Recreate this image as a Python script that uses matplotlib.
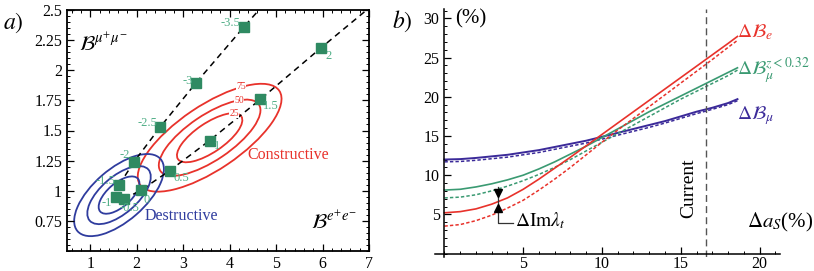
import matplotlib
matplotlib.use('Agg')
import numpy as np
from matplotlib import pyplot as plt
from matplotlib.patches import Ellipse
from matplotlib.transforms import Affine2D
from matplotlib.ticker import MultipleLocator, FormatStrFormatter

plt.rcParams['font.family'] = ['Liberation Serif', 'DejaVu Serif']
plt.rcParams['mathtext.fontset'] = 'stix'

# ---- panel a data ----
par_labels = ['-3.5', '-3', '-2.5', '-2', '-1.5', '-1', '-0.5', '0', '0.5', '1', '1.5', '2']
bee = [4.30, 3.28, 2.505, 1.946, 1.624, 1.55, 1.72, 2.10, 2.71, 3.57, 4.66, 5.97]
bmm = [2.356, 1.897, 1.528, 1.242, 1.05, 0.945, 0.93, 1.006, 1.167, 1.417, 1.758, 2.187]
lab_off = [(-2, 3), (-2, 1), (-2, 3), (-3, 5), (-3, 3), (-3, -4),
           (4, -6), (1.5, -7), (3, -5), (3, -4), (2, -5), (3, -6)]
lab_ha = ['right'] * 6 + ['center'] + ['left'] * 5

# dashed branches (indices into the points) plus where they leave the frame
branch1 = [4, 3, 2, 1, 0]
branch1_end = (4.63, 2.5)
branch2 = [6, 7, 8, 9, 10, 11]
branch2_end = (6.95, 2.5)

# probability contours: centre, semi axes (in reference pixels), angle
levels = ['25', '50', '75']
red_center = (3.57, 1.44)
red_axes = [(38.2, 14.6), (59.4, 22.6), (84, 32)]
red_angle = 34
blue_center = (1.62, 0.964)
blue_axes = [(25, 11.8), (38.9, 18.4), (55, 26)]
blue_angle = 41
level_pos = [(4.10, 1.645), (4.20, 1.753), (4.25, 1.863)]

# ---- panel b data ----
das = [0, 1, 2, 3, 4, 5, 6, 7, 8, 9, 10, 11, 12, 13, 14, 15, 16, 17, 18, 18.6]
be_solid = [5.2, 5.35, 5.7, 6.3, 7.1, 8.2, 9.5, 10.9, 12.3, 13.75, 15.2, 16.65,
            18.1, 19.55, 21.0, 22.45, 23.9, 25.35, 26.8, 27.7]
be_dash = [3.5, 3.7, 4.2, 4.9, 5.8, 6.8, 8.1, 9.5, 11.0, 12.6, 14.2, 15.75,
           17.25, 18.75, 20.25, 21.75, 23.25, 24.75, 26.3, 27.2]
bmz_solid = [8.1, 8.2, 8.5, 8.9, 9.4, 10.0, 10.8, 11.7, 12.7, 13.7, 14.8, 15.9,
             17.0, 18.1, 19.1, 20.1, 21.1, 22.1, 23.1, 23.7]
bmz_dash = [7.1, 7.2, 7.5, 8.0, 8.6, 9.3, 10.1, 11.0, 12.0, 13.1, 14.2, 15.3,
            16.4, 17.5, 18.6, 19.7, 20.7, 21.7, 22.7, 23.4]
bm_solid = [12.0, 12.05, 12.2, 12.4, 12.6, 12.9, 13.2, 13.6, 14.0, 14.4, 14.9, 15.4,
            15.9, 16.4, 16.9, 17.5, 18.1, 18.6, 19.2, 19.7]
bm_dash = [11.7, 11.75, 11.9, 12.1, 12.3, 12.6, 12.9, 13.3, 13.7, 14.1, 14.6, 15.1,
           15.6, 16.1, 16.65, 17.25, 17.85, 18.4, 19.0, 19.5]
current = 16.6

RED = '#e8322b'
GREEN = '#3a9a72'
GLAB = '#4fae86'
BLUE = '#2f3c9e'
VIOLET = '#3b2a99'

fig = plt.figure(figsize=(8.14, 2.71), dpi=100)

# ================= panel a =================
ax = fig.add_axes([67 / 814, 20 / 271, 302 / 814, 241 / 271])
ax.set_xlim(0.5, 7)
ax.set_ylim(0.5, 2.5)
ax.set_xticks([1, 2, 3, 4, 5, 6, 7])
ax.set_yticks([0.75, 1, 1.25, 1.5, 1.75, 2, 2.25, 2.5])
ax.yaxis.set_major_formatter(FormatStrFormatter('%g'))
ax.xaxis.set_minor_locator(MultipleLocator(0.2))
ax.yaxis.set_minor_locator(MultipleLocator(0.05))
ax.tick_params(which='both', direction='in', top=True, right=True, labelsize=11.5)
ax.tick_params(which='major', length=5, width=0.9)
ax.tick_params(which='minor', length=2.5, width=0.7)
for s in ax.spines.values():
    s.set_linewidth(1.3)

fig.canvas.draw()
bb = ax.get_window_extent()
ppx = bb.width / 6.5
ppy = bb.height / 2.0


def draw_ellipses(center, axes_list, angle, color):
    tr = Affine2D().scale(1 / ppx, 1 / ppy).translate(*center) + ax.transData
    for a, b in axes_list:
        ax.add_patch(Ellipse((0, 0), 2 * a, 2 * b, angle=angle, transform=tr,
                             fill=False, edgecolor=color, lw=1.3))


draw_ellipses(red_center, red_axes, red_angle, RED)
draw_ellipses(blue_center, blue_axes, blue_angle, BLUE)

for lv, (x, y) in zip(levels, level_pos):
    ax.text(x, y, lv, color=RED, fontsize=7, ha='center', va='center',
            bbox=dict(facecolor='white', edgecolor='none', pad=0.3))

for br, end in [(branch1, branch1_end), (branch2, branch2_end)]:
    xs = [bee[i] for i in br] + [end[0]]
    ys = [bmm[i] for i in br] + [end[1]]
    ax.plot(xs, ys, color='black', lw=1.1, ls=(0, (4, 3)))

ax.plot(bee, bmm, 's', color='#2f8a62', ms=6.5, ls='none')
for x, y, t, off, ha in zip(bee, bmm, par_labels, lab_off, lab_ha):
    ax.annotate(t, (x, y), xytext=off, textcoords='offset points',
                ha=ha, va='center', color=GLAB, fontsize=9)

ax.text(4.38, 1.30, 'Constructive', color=RED, fontsize=11.5, ha='left', va='center')
ax.text(2.18, 0.79, 'Destructive', color=BLUE, fontsize=11.5, ha='left', va='center')
ax.text(0.75, 2.21, r'$\mathcal{B}^{\mu^{+}\mu^{-}}$', fontsize=15, ha='left', va='center')
ax.text(5.75, 0.73, r'$\mathcal{B}^{e^{+}e^{-}}$', fontsize=15, ha='left', va='center')
fig.text(3 / 814, 1 - 23 / 271, r'$a)$', fontsize=17, ha='left', va='center')

# ================= panel b =================
bx = fig.add_axes([435 / 814, 14.3 / 271, 345 / 814, 247.7 / 271])
bx.set_xlim(-0.6, 21.3)
bx.set_ylim(-0.4, 31.2)
for side in ['top', 'right']:
    bx.spines[side].set_visible(False)
bx.spines['left'].set_position(('data', 0))
bx.spines['bottom'].set_position(('data', 0))
bx.spines['left'].set_linewidth(1.1)
bx.spines['bottom'].set_linewidth(1.1)
bx.set_xticks([5, 10, 15, 20])
bx.set_yticks([5, 10, 15, 20, 25, 30])
bx.xaxis.set_minor_locator(MultipleLocator(1))
bx.yaxis.set_minor_locator(MultipleLocator(1))
bx.tick_params(which='both', direction='in', labelsize=11.5)
bx.tick_params(which='major', length=5, width=0.9)
bx.tick_params(which='minor', length=2.5, width=0.7)
bx.tick_params(axis='x', pad=1.5)

dash = (0, (2.2, 1.4))
bx.plot(das, bm_solid, color=VIOLET, lw=1.4)
bx.plot(das, bm_dash, color=VIOLET, lw=1.1, ls=dash)
bx.plot(das, bmz_solid, color=GREEN, lw=1.2)
bx.plot(das, bmz_dash, color=GREEN, lw=1.1, ls=dash)
bx.plot(das, be_solid, color=RED, lw=1.2)
bx.plot(das, be_dash, color=RED, lw=1.1, ls=dash)

bx.axvline(current, color='#555555', lw=1.0, ls=(0, (5, 3)))
bx.text(current - 0.55, 8.4, 'Current', rotation=90, fontsize=14,
        ha='right', va='center')

# Im lambda_t marker
bx.plot([3.4, 3.4, 4.33], [8.5, 3.9, 3.9], color='#333333', lw=0.9)
bx.plot([3.4], [7.68], 'v', color='black', ms=5.5)
bx.plot([3.4], [5.77], '^', color='black', ms=5.5)
bx.text(4.5, 4.2, r'$\Delta\mathrm{Im}\lambda_t$', fontsize=14, ha='left', va='center')

bx.text(18.6, 28.3, r'$\Delta\mathcal{B}_e$', color=RED, fontsize=14, ha='left', va='center')
bx.text(18.6, 23.3, r'$\Delta\mathcal{B}_\mu^{z<0.32}$', color=GREEN, fontsize=14,
        ha='left', va='center')
bx.text(18.6, 17.6, r'$\Delta\mathcal{B}_\mu$', color=VIOLET, fontsize=14,
        ha='left', va='center')
bx.text(0.7, 30.0, '(%)', fontsize=15, ha='left', va='center')
bx.text(19.2, 4.0, r'$\Delta a_S$(%)', fontsize=15, ha='left', va='center', clip_on=False)
fig.text(392 / 814, 1 - 21 / 271, r'$b)$', fontsize=17, ha='left', va='center')

fig.savefig('out.png', dpi=100)
